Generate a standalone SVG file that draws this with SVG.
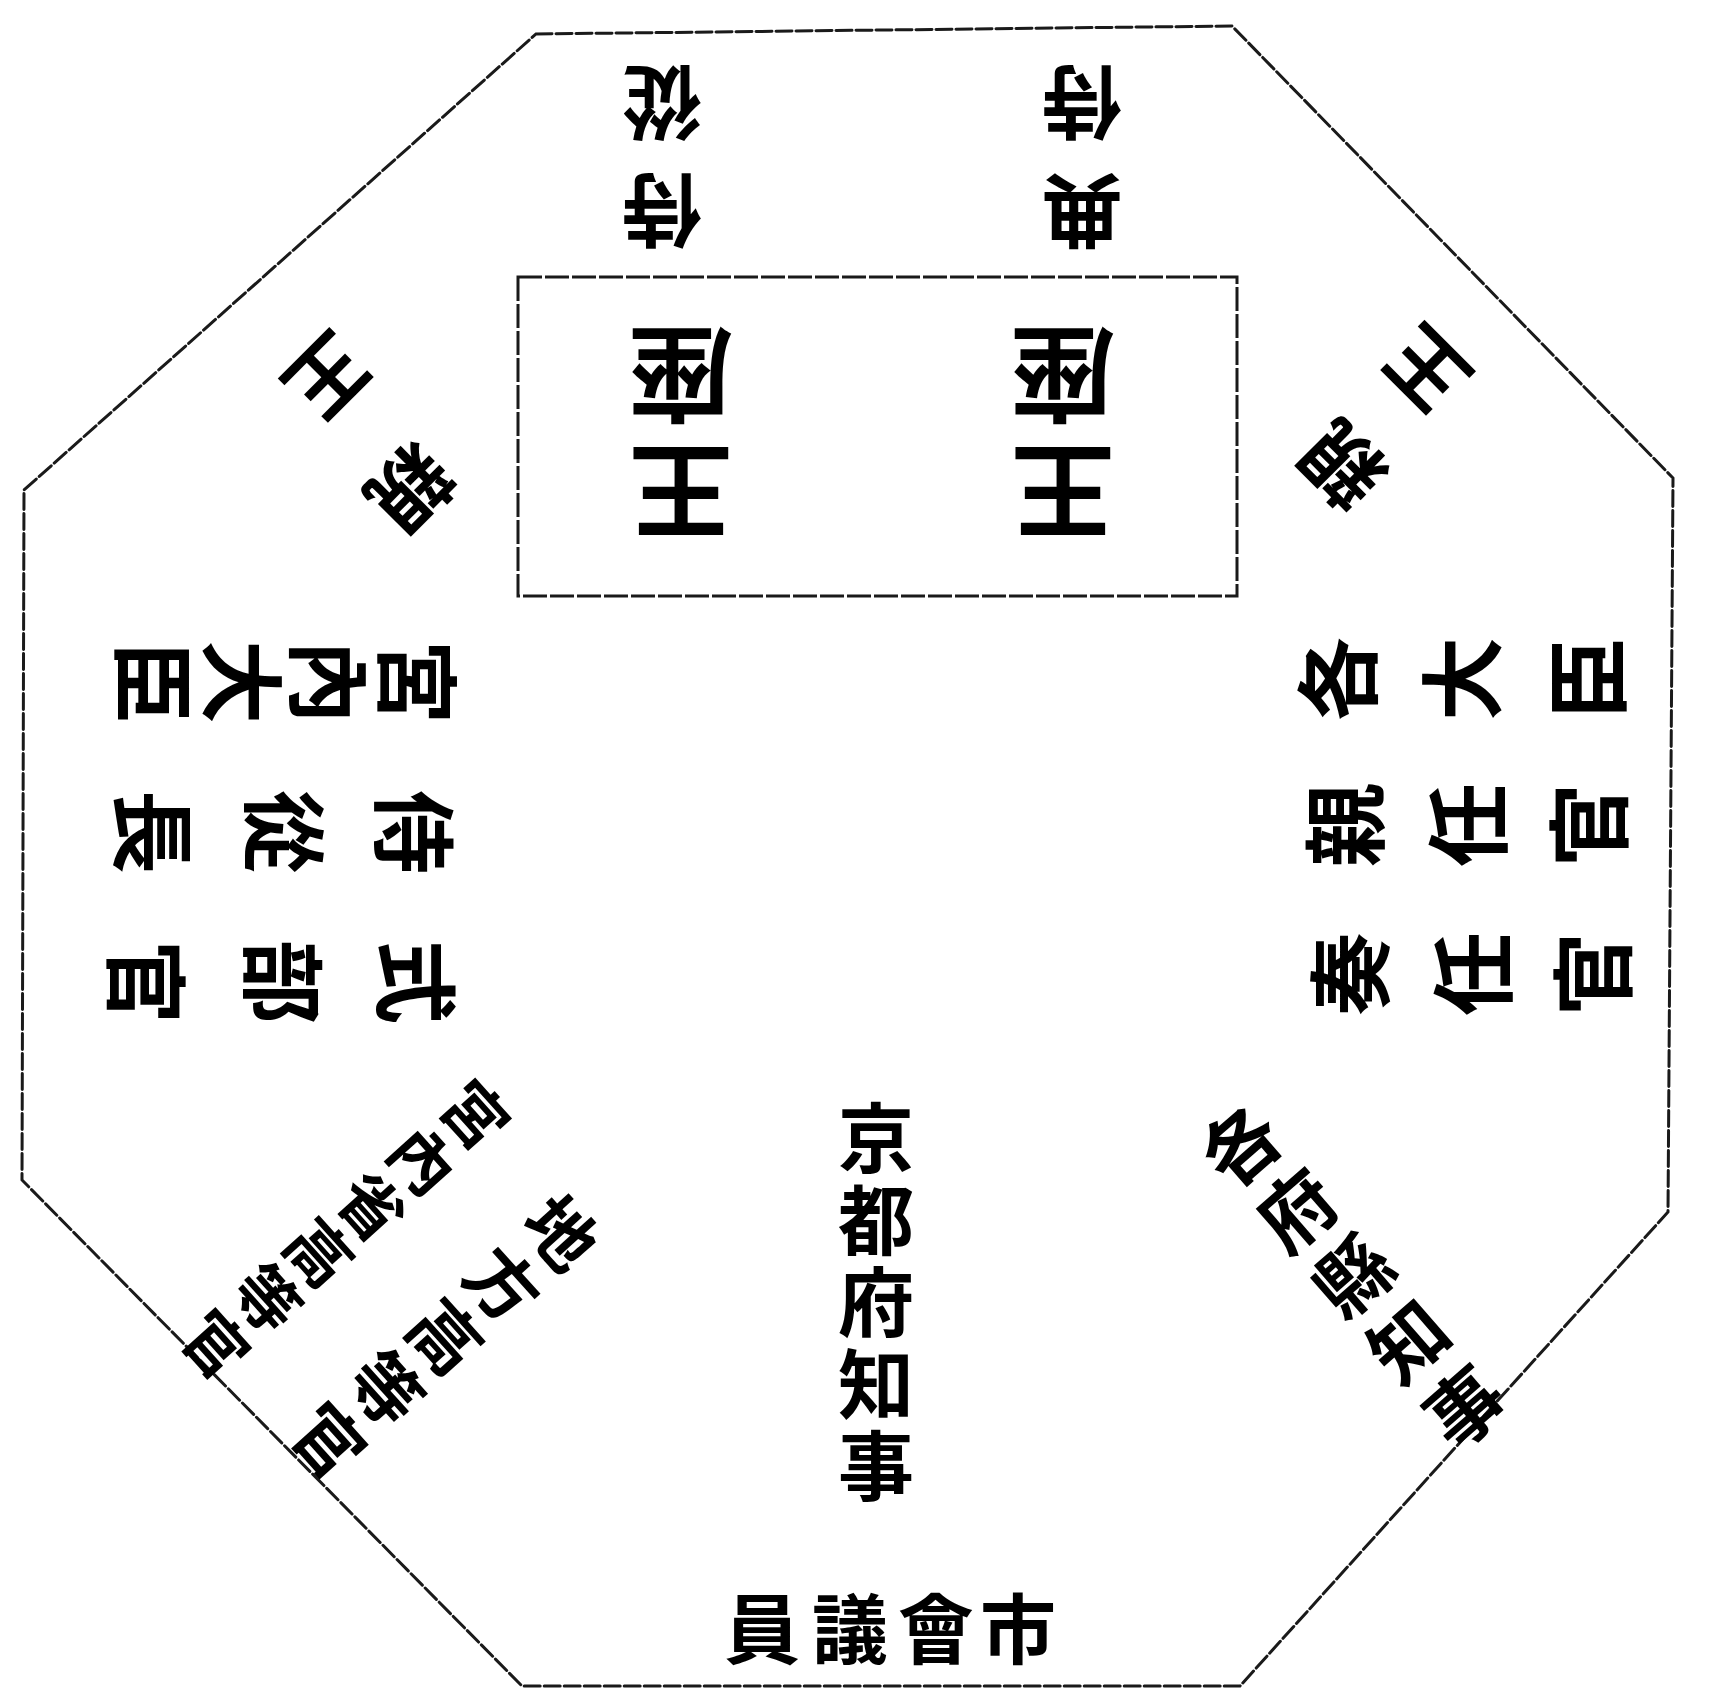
<svg xmlns="http://www.w3.org/2000/svg" width="1710" height="1690" viewBox="0 0 1710 1690">
<style>
.edge{fill:none;stroke:#1a1a1a;stroke-width:3;stroke-dasharray:16 4;stroke-linecap:round}
.box{fill:none;stroke:#1a1a1a;stroke-width:3;stroke-dasharray:24 3}
text{font-family:"Noto Sans CJK JP","Noto Sans CJK TC",sans-serif;font-weight:700;fill:#000;text-anchor:middle;dominant-baseline:central}
.s104{font-size:104px}.s84{font-size:84px}.s80{font-size:80px}.s76{font-size:76px}.s70{font-size:70px}.s64{font-size:64px}
.vert{writing-mode:vertical-rl;text-anchor:start;letter-spacing:6px}
</style>
<rect x="0" y="0" width="1710" height="1690" fill="#fff"/>
<g id="connectors">
<polygon id="hall" class="edge" points="536,34 1232,26 1673,478 1668,1212 1240,1686 522,1686 22,1180 24,490"/>
</g>
<g id="throne-box">
<rect class="box" x="518" y="277" width="719" height="319"/>
</g>
<g id="throne-left" class="s104">
<text transform="translate(681,497) rotate(180)">王</text>
<text transform="translate(681,380) rotate(180)">座</text>
</g>
<g id="throne-right" class="s104">
<text transform="translate(1063,497) rotate(180)">王</text>
<text transform="translate(1063,380) rotate(180)">座</text>
</g>
<g id="jiju" class="s80">
<text transform="translate(662,216) rotate(180)">侍</text>
<text transform="translate(662,108) rotate(180)">從</text>
</g>
<g id="tenji" class="s80">
<text transform="translate(1082,216) rotate(180)">典</text>
<text transform="translate(1082,108) rotate(180)">侍</text>
</g>
<g id="shinno-left" class="s80">
<text transform="translate(414,492) rotate(135)">親</text>
<text transform="translate(331,380) rotate(135)">王</text>
</g>
<g id="shinno-right" class="s80">
<text transform="translate(1339,469) rotate(225)">親</text>
<text transform="translate(1423,373) rotate(225)">王</text>
</g>
<g id="kunai-daijin" class="s84">
<text transform="translate(421,682) rotate(90)">宮</text>
<text transform="translate(333,682) rotate(90)">內</text>
<text transform="translate(246,682) rotate(90)">大</text>
<text transform="translate(158,682) rotate(90)">臣</text>
</g>
<g id="jiju-cho" class="s84">
<text transform="translate(418,832) rotate(90)">侍</text>
<text transform="translate(288,832) rotate(90)">從</text>
<text transform="translate(157,832) rotate(90)">長</text>
</g>
<g id="shikibukan" class="s84">
<text transform="translate(420,982) rotate(90)">式</text>
<text transform="translate(287,982) rotate(90)">部</text>
<text transform="translate(150,982) rotate(90)">官</text>
</g>
<g id="kaku-daijin" class="s84">
<text transform="translate(1333,679) rotate(-90)">各</text>
<text transform="translate(1457,679) rotate(-90)">大</text>
<text transform="translate(1582,679) rotate(-90)">臣</text>
</g>
<g id="shinninkan" class="s84">
<text transform="translate(1340,825) rotate(-90)">親</text>
<text transform="translate(1463,825) rotate(-90)">任</text>
<text transform="translate(1584,825) rotate(-90)">官</text>
</g>
<g id="soninkan" class="s84">
<text transform="translate(1345,974) rotate(-90)">奏</text>
<text transform="translate(1468,974) rotate(-90)">任</text>
<text transform="translate(1588,974) rotate(-90)">官</text>
</g>
<g id="fuken-chiji" class="s76">
<text transform="translate(1238,1142) rotate(-41)">各</text>
<text transform="translate(1294,1207) rotate(-41)">府</text>
<text transform="translate(1350,1273) rotate(-41)">縣</text>
<text transform="translate(1406,1338) rotate(-41)">知</text>
<text transform="translate(1462,1404) rotate(-41)">事</text>
</g>
<g id="kunaisho-kotokan" class="s64">
<text transform="translate(478,1112) rotate(48)">宮</text>
<text transform="translate(426,1158) rotate(48)">內</text>
<text transform="translate(374,1204) rotate(48)">省</text>
<text transform="translate(322,1250) rotate(48)">高</text>
<text transform="translate(270,1296) rotate(48)">等</text>
<text transform="translate(218,1342) rotate(48)">官</text>
</g>
<g id="chiho-kotokan" class="s70">
<text transform="translate(564,1230) rotate(48)">地</text>
<text transform="translate(506,1282) rotate(48)">方</text>
<text transform="translate(448,1334) rotate(48)">高</text>
<text transform="translate(389,1386) rotate(48)">等</text>
<text transform="translate(331,1438) rotate(48)">官</text>
</g>
<g id="kyoto-chiji">
<text class="s76 vert" x="876" y="1100">京都府知事</text>
</g>
<g id="shikai-giin" class="s76">
<text x="1018" y="1625">市</text>
<text x="936" y="1625">會</text>
<text x="850" y="1625">議</text>
<text x="762" y="1625">員</text>
</g>
</svg>
